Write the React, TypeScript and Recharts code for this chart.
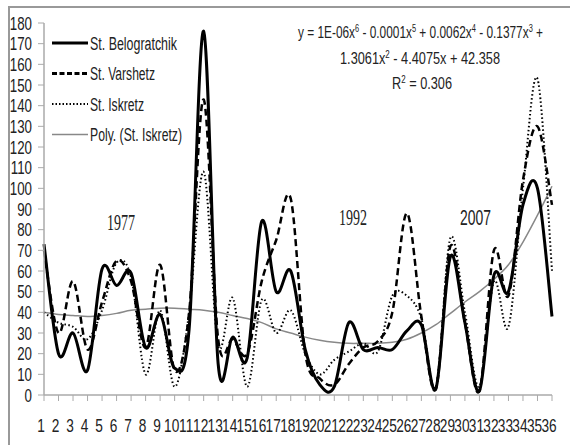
import React from "react";
import { LineChart, Line, XAxis, YAxis } from "recharts";

const categories = [
  "1", "2", "3", "4", "5", "6", "7", "8", "9", "10", "11", "12",
  "13", "14", "15", "16", "17", "18", "19", "20", "21", "22", "23", "24",
  "25", "26", "27", "28", "29", "30", "31", "32", "33", "34", "35", "36",
];

const belogratchik = [
  73, 20, 30, 12, 61, 53, 59, 23, 39, 13, 32, 176,
  15, 28, 18, 84, 50, 60, 22, 5, 4, 35, 22, 23,
  22, 31, 34, 3, 67, 35, 2, 58, 50, 92, 100, 38,
];

const varshetz = [
  70, 30, 55, 22, 45, 65, 55, 23, 63, 12, 40, 143,
  27, 27, 20, 55, 75, 95, 20, 8, 5, 15, 23, 26,
  40, 88, 38, 3, 72, 35, 2, 70, 48, 104, 130, 92,
];

const iskretz = [
  40, 35, 33, 27, 41, 64, 57, 10, 41, 4, 40, 108,
  24, 47, 4, 46, 30, 41, 20, 10, 17, 21, 25, 21,
  48, 48, 37, 4, 76, 40, 4, 55, 33, 100, 153, 60,
];

const polyIskretz = [
  40, 39, 38.5, 38, 38.5, 39.5, 41, 41.5, 42, 42, 41.5, 41,
  40, 38.5, 37, 35, 32, 30, 28, 26.5, 25.5, 25, 25, 25,
  25.5, 27, 30, 34, 39.5, 45, 50, 56, 63, 74, 87, 101,
];

const yTicks = [0, 10, 20, 30, 40, 50, 60, 70, 80, 90, 100, 110, 120, 130, 140, 150, 160, 170, 180];

const chartData = categories.map((c, i) => ({
  name: c,
  b: belogratchik[i],
  v: varshetz[i],
  s: iskretz[i],
  p: polyIskretz[i],
}));

const FONT = '"Liberation Sans", Arial, sans-serif';
const SERIF = '"Liberation Serif", serif';
const INK = "#222";

// smooth curve like Excel's "smoothed line" (catmull-rom style bezier)
const excelCurve = (context: any) => {
  let pts: number[][] = [];
  return {
    areaStart() {},
    areaEnd() {},
    lineStart() {
      pts = [];
    },
    point(x: number, y: number) {
      pts.push([+x, +y]);
    },
    lineEnd() {
      if (!pts.length) return;
      context.moveTo(pts[0][0], pts[0][1]);
      for (let i = 0; i < pts.length - 1; i++) {
        const p0 = pts[i - 1] || pts[i];
        const p1 = pts[i];
        const p2 = pts[i + 1];
        const p3 = pts[i + 2] || p2;
        context.bezierCurveTo(
          p1[0] + (p2[0] - p0[0]) / 6,
          p1[1] + (p2[1] - p0[1]) / 6,
          p2[0] - (p3[0] - p1[0]) / 6,
          p2[1] - (p3[1] - p1[1]) / 6,
          p2[0],
          p2[1]
        );
      }
    },
  };
};

const XTick = (props: any) => {
  const { x, y, payload } = props;
  return (
    <text
      transform={`translate(${x - 3},${y + 29}) scale(0.72,1)`}
      textAnchor="middle"
      fontSize={19}
      fontFamily={FONT}
      fill={INK}
    >
      {payload.value}
    </text>
  );
};

const YTick = (props: any) => {
  const { x, y, payload } = props;
  return (
    <text
      transform={`translate(${x - 4},${y + 6.5}) scale(0.74,1)`}
      textAnchor="end"
      fontSize={18}
      fontFamily={FONT}
      fill={INK}
    >
      {payload.value}
    </text>
  );
};

const legendItems = [
  { label: "St. Belogratchik", len: 87, stroke: "#000", width: 3, dash: undefined as string | undefined },
  { label: "St. Varshetz", len: 65, stroke: "#000", width: 3, dash: "5 2.5" },
  { label: "St. Iskretz", len: 54, stroke: "#000", width: 1.8, dash: "1.5 2" },
  { label: "Poly. (St. Iskretz)", len: 92, stroke: "#888", width: 1.5, dash: undefined },
];

const Sup = ({ v }: { v: string }) => (
  <>
    <tspan dy={-6} fontSize={10}>{v}</tspan>
    <tspan dy={6}> </tspan>
  </>
);

export default function App() {
  return (
    <div
      style={{
        position: "absolute",
        left: 0,
        top: 0,
        width: 570,
        height: 445,
        background: "#fff",
        overflow: "hidden",
      }}
    >
      <div
        style={{
          position: "absolute",
          left: 8,
          top: 6,
          width: 600,
          height: 500,
          borderLeft: "2px solid #999",
          borderTop: "2px solid #999",
        }}
      />
      <LineChart
        width={570}
        height={445}
        data={chartData}
        margin={{ top: 23, right: 18, bottom: 0, left: 0 }}
      >
        <XAxis
          dataKey="name"
          interval={0}
          height={50}
          tick={<XTick />}
          tickSize={6}
          axisLine={{ stroke: "#aaa", strokeWidth: 1.5 }}
          tickLine={{ stroke: "#aaa" }}
        />
        <YAxis
          domain={[0, 180]}
          ticks={yTicks}
          interval={0}
          width={44}
          tick={<YTick />}
          tickSize={6}
          axisLine={{ stroke: "#aaa", strokeWidth: 1.5 }}
          tickLine={{ stroke: "#aaa" }}
        />
        <Line
          dataKey="p"
          type={excelCurve as any}
          stroke="#888"
          strokeWidth={1.5}
          dot={false}
          isAnimationActive={false}
        />
        <Line
          dataKey="s"
          type={excelCurve as any}
          stroke="#000"
          strokeWidth={2}
          strokeDasharray="1.5 2.5"
          dot={false}
          isAnimationActive={false}
        />
        <Line
          dataKey="v"
          type={excelCurve as any}
          stroke="#000"
          strokeWidth={2.5}
          strokeDasharray="7 4"
          dot={false}
          isAnimationActive={false}
        />
        <Line
          dataKey="b"
          type={excelCurve as any}
          stroke="#000"
          strokeWidth={3}
          dot={false}
          isAnimationActive={false}
        />
      </LineChart>

      {/* legend, equation and year labels */}
      <svg
        width={570}
        height={445}
        style={{ position: "absolute", left: 0, top: 0, pointerEvents: "none" }}
        fontFamily={FONT}
        fill={INK}
      >
        {legendItems.map((it, i) => {
          const y = 43 + i * 30.5;
          return (
            <g key={it.label}>
              <line
                x1={52}
                y1={y}
                x2={88}
                y2={y}
                stroke={it.stroke}
                strokeWidth={it.width}
                strokeDasharray={it.dash}
              />
              <text x={90} y={y + 6.5} fontSize={18} textLength={it.len} lengthAdjust="spacingAndGlyphs">
                {it.label}
              </text>
            </g>
          );
        })}

        <text x={298} y={38} fontSize={16} textLength={245} lengthAdjust="spacingAndGlyphs">
          y = 1E-06x<Sup v="6" />- 0.0001x<Sup v="5" />+ 0.0062x<Sup v="4" />- 0.1377x<Sup v="3" />+
        </text>
        <text x={340} y={64} fontSize={16} textLength={160} lengthAdjust="spacingAndGlyphs">
          1.3061x<Sup v="2" />- 4.4075x + 42.358
        </text>
        <text x={392} y={89} fontSize={16} textLength={60} lengthAdjust="spacingAndGlyphs">
          R<Sup v="2" />= 0.306
        </text>

        <text x={107} y={230} fontSize={23} fontFamily={SERIF} textLength={28} lengthAdjust="spacingAndGlyphs">
          1977
        </text>
        <text x={339} y={225} fontSize={23} fontFamily={SERIF} textLength={28} lengthAdjust="spacingAndGlyphs">
          1992
        </text>
        <text x={460} y={225} fontSize={22} textLength={31} lengthAdjust="spacingAndGlyphs">
          2007
        </text>
      </svg>
    </div>
  );
}
